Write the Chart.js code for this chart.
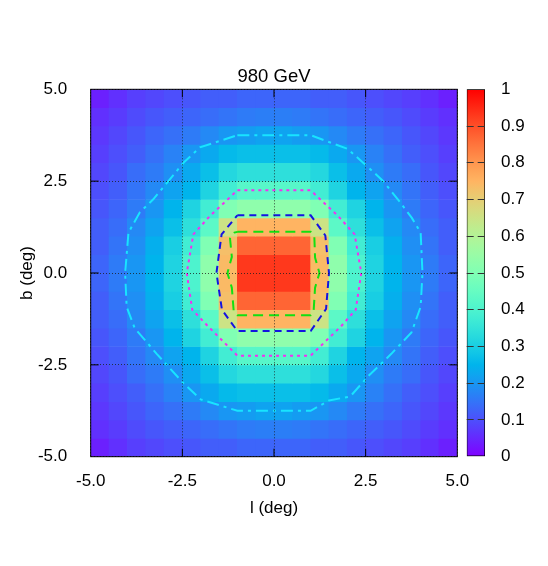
<!DOCTYPE html>
<html>
<head>
<meta charset="utf-8">
<title>980 GeV</title>
<script src="https://cdn.jsdelivr.net/npm/chart.js@4.4.1/dist/chart.umd.min.js"></script>
<style>
  html, body { margin: 0; padding: 0; background: #fff; }
  #wrap { position: relative; width: 548px; height: 566px; }
  #map { position: absolute; left: 0; top: 0; }
  #cbar { position: absolute; left: 460px; top: 0; }
</style>
</head>
<body>
<div id="wrap">
  <canvas id="map" width="548" height="566"></canvas>
  <canvas id="cbar" width="88" height="566"></canvas>
</div>
<script>
// ── Data ──

const TITLE = "980 GeV";
const X_LABEL = "l (deg)";
const Y_LABEL = "b (deg)";

// cell centres in l, cell edges in b (top to bottom)
const L_CENTERS = [-4.75, -4.25, -3.75, -3.25, -2.75, -2.25, -1.75, -1.25, -0.75, -0.25,
                    0.25,  0.75,  1.25,  1.75,  2.25,  2.75,  3.25,  3.75,  4.25,  4.75];
const B_EDGES = [5.0, 4.5, 4.0, 3.5, 3.0, 2.5, 2.0, 1.5, 1.0, 0.5, 0.0,
                 -0.5, -1.0, -1.5, -2.0, -2.5, -3.0, -3.5, -4.0, -4.5, -5.0];

// normalised value per cell, rows from b = 5 down to b = -5
const FLUX = [
    [0.04, 0.06, 0.08, 0.09, 0.10, 0.11, 0.12, 0.12, 0.13, 0.13, 0.13, 0.13, 0.12, 0.12, 0.11, 0.10, 0.09, 0.08, 0.06, 0.04],
    [0.06, 0.075, 0.095, 0.11, 0.12, 0.13, 0.14, 0.15, 0.16, 0.165, 0.165, 0.16, 0.15, 0.14, 0.13, 0.12, 0.11, 0.095, 0.075, 0.06],
    [0.07, 0.09, 0.11, 0.13, 0.145, 0.16, 0.18, 0.20, 0.21, 0.22, 0.22, 0.21, 0.20, 0.18, 0.16, 0.145, 0.13, 0.11, 0.09, 0.07],
    [0.08, 0.10, 0.12, 0.145, 0.17, 0.20, 0.23, 0.26, 0.27, 0.27, 0.27, 0.27, 0.26, 0.23, 0.20, 0.17, 0.145, 0.12, 0.10, 0.08],
    [0.09, 0.11, 0.14, 0.16, 0.19, 0.23, 0.27, 0.32, 0.34, 0.34, 0.34, 0.34, 0.32, 0.27, 0.23, 0.19, 0.16, 0.14, 0.11, 0.09],
    [0.10, 0.12, 0.15, 0.18, 0.22, 0.25, 0.31, 0.38, 0.42, 0.42, 0.42, 0.42, 0.38, 0.31, 0.25, 0.22, 0.18, 0.15, 0.12, 0.10],
    [0.11, 0.13, 0.16, 0.20, 0.25, 0.31, 0.38, 0.50, 0.53, 0.53, 0.53, 0.53, 0.50, 0.38, 0.31, 0.25, 0.20, 0.16, 0.13, 0.11],
    [0.12, 0.14, 0.18, 0.22, 0.27, 0.34, 0.43, 0.65, 0.75, 0.75, 0.75, 0.75, 0.65, 0.43, 0.34, 0.27, 0.22, 0.18, 0.14, 0.12],
    [0.12, 0.15, 0.19, 0.24, 0.30, 0.38, 0.50, 0.73, 0.87, 0.87, 0.87, 0.87, 0.73, 0.50, 0.38, 0.30, 0.24, 0.19, 0.15, 0.12],
    [0.13, 0.16, 0.20, 0.25, 0.31, 0.40, 0.53, 0.74, 0.93, 0.93, 0.93, 0.93, 0.74, 0.53, 0.40, 0.31, 0.25, 0.20, 0.16, 0.13],
    [0.13, 0.16, 0.20, 0.25, 0.31, 0.40, 0.53, 0.74, 0.93, 0.93, 0.93, 0.93, 0.74, 0.53, 0.40, 0.31, 0.25, 0.20, 0.16, 0.13],
    [0.12, 0.15, 0.19, 0.24, 0.30, 0.38, 0.50, 0.73, 0.87, 0.87, 0.87, 0.87, 0.73, 0.50, 0.38, 0.30, 0.24, 0.19, 0.15, 0.12],
    [0.12, 0.14, 0.18, 0.22, 0.27, 0.34, 0.43, 0.65, 0.75, 0.75, 0.75, 0.75, 0.65, 0.43, 0.34, 0.27, 0.22, 0.18, 0.14, 0.12],
    [0.11, 0.13, 0.16, 0.20, 0.25, 0.31, 0.38, 0.50, 0.53, 0.53, 0.53, 0.53, 0.50, 0.38, 0.31, 0.25, 0.20, 0.16, 0.13, 0.11],
    [0.10, 0.12, 0.15, 0.18, 0.22, 0.25, 0.31, 0.38, 0.42, 0.42, 0.42, 0.42, 0.38, 0.31, 0.25, 0.22, 0.18, 0.15, 0.12, 0.10],
    [0.09, 0.11, 0.14, 0.16, 0.19, 0.23, 0.27, 0.32, 0.34, 0.34, 0.34, 0.34, 0.32, 0.27, 0.23, 0.19, 0.16, 0.14, 0.11, 0.09],
    [0.08, 0.10, 0.12, 0.145, 0.17, 0.20, 0.23, 0.26, 0.27, 0.27, 0.27, 0.27, 0.26, 0.23, 0.20, 0.17, 0.145, 0.12, 0.10, 0.08],
    [0.07, 0.09, 0.11, 0.13, 0.145, 0.16, 0.18, 0.20, 0.21, 0.22, 0.22, 0.21, 0.20, 0.18, 0.16, 0.145, 0.13, 0.11, 0.09, 0.07],
    [0.06, 0.075, 0.095, 0.11, 0.12, 0.13, 0.14, 0.15, 0.16, 0.165, 0.165, 0.16, 0.15, 0.14, 0.13, 0.12, 0.11, 0.095, 0.075, 0.06],
    [0.04, 0.06, 0.08, 0.09, 0.10, 0.11, 0.12, 0.12, 0.13, 0.13, 0.13, 0.13, 0.12, 0.12, 0.11, 0.10, 0.09, 0.08, 0.06, 0.04],
];

// contour outlines as [l, b]
const CONTOUR_OUTER = [
    [-1.0, 3.75], [1.0, 3.75], [2.0, 3.38], [2.47, 2.97], [2.98, 2.5], [3.46, 1.9], [3.76, 1.5],
    [4.0, 1.1], [4.05, 0.0], [4.0, -0.92], [3.75, -1.62], [3.2, -2.2], [2.58, -2.8], [2.08, -3.36],
    [1.5, -3.47], [1.0, -3.75], [-1.0, -3.75], [-2.0, -3.44], [-2.47, -3.0], [-3.2, -2.2],
    [-3.8, -1.5], [-4.02, -0.92], [-4.06, 0.0], [-3.97, 1.1], [-3.66, 1.65], [-3.3, 2.0],
    [-2.88, 2.5], [-2.47, 3.0], [-2.02, 3.42], [-1.0, 3.75],
];
const CONTOUR_DOTTED = [
    [-1.0, 2.25], [1.0, 2.25], [1.75, 1.55], [2.2, 1.05], [2.38, 0.0], [2.23, -1.0], [1.82, -1.46],
    [1.0, -2.25], [-1.0, -2.25], [-1.8, -1.45], [-2.23, -1.0], [-2.38, 0.0], [-2.2, 1.05],
    [-1.75, 1.55], [-1.0, 2.25],
];
const CONTOUR_DASHED = [
    [-1.0, 1.57], [1.0, 1.57], [1.4, 1.02], [1.5, 0.0], [1.42, -0.98], [1.0, -1.58], [-1.0, -1.58],
    [-1.42, -1.0], [-1.57, 0.0], [-1.43, 1.05], [-1.0, 1.57],
];
const CONTOUR_INNER = [
    [-1.0, 1.12], [1.0, 1.12], [1.1, 1.0], [1.12, 0.42], [1.24, 0.0], [1.12, -0.4], [1.08, -1.05],
    [1.0, -1.15], [-1.0, -1.15], [-1.1, -1.03], [-1.15, -0.4], [-1.27, 0.0], [-1.15, 0.44],
    [-1.2, 0.94], [-1.08, 1.1], [-1.0, 1.12],
];

// ── Style ──

const FONT = { family: "'Liberation Sans', Arial, Helvetica, sans-serif", size: 17, weight: "normal" };
const TITLE_FONT = { family: FONT.family, size: 18.5, weight: "normal" };
const TICK_LEN = 8;

Chart.defaults.font.family = FONT.family;
Chart.defaults.color = "#000";

// gnuplot rgbformulae 33,13,10
function rainbow(v) {
    const c = t => Math.round(255 * Math.min(1, Math.max(0, t)));
    const r = Math.abs(2 * v - 0.5);
    const g = Math.sin(Math.PI * v);
    const b = Math.cos(Math.PI * v / 2);
    return "rgb(" + c(r) + "," + c(g) + "," + c(b) + ")";
}

function contourSet(points, color, dash) {
    return {
        type: "line",
        data: points.map(p => ({ x: p[0], y: p[1] })),
        borderColor: color,
        borderWidth: 2,
        borderDash: dash,
        pointRadius: 0,
        fill: false,
        tension: 0,
        order: 1,
    };
}

// ── Frame with inward tics ──

const framePlugin = {
    id: "frame",
    afterDraw(chart) {
        const { ctx, chartArea: a, scales } = chart;
        ctx.save();
        ctx.strokeStyle = "#000";
        ctx.lineWidth = 1;
        ctx.strokeRect(a.left, a.top, a.right - a.left, a.bottom - a.top);
        ctx.beginPath();
        scales.x.ticks.forEach(t => {
            const px = scales.x.getPixelForValue(t.value);
            if (px <= a.left + 1 || px >= a.right - 1) return;
            ctx.moveTo(px, a.bottom); ctx.lineTo(px, a.bottom - TICK_LEN);
            ctx.moveTo(px, a.top); ctx.lineTo(px, a.top + TICK_LEN);
        });
        scales.y.ticks.forEach(t => {
            const py = scales.y.getPixelForValue(t.value);
            if (py <= a.top + 1 || py >= a.bottom - 1) return;
            ctx.moveTo(a.left, py); ctx.lineTo(a.left + TICK_LEN, py);
            ctx.moveTo(a.right, py); ctx.lineTo(a.right - TICK_LEN, py);
        });
        ctx.stroke();
        ctx.restore();
    }
};

// ── Map ──

const cellSets = FLUX.map((row, r) => ({
    type: "bar",
    data: row.map((v, c) => ({ x: L_CENTERS[c], y: [B_EDGES[r + 1], B_EDGES[r]] })),
    backgroundColor: row.map(rainbow),
    borderWidth: 0,
    barPercentage: 1,
    categoryPercentage: 1,
    grouped: false,
    order: 2,
}));

const gridDots = { drawTicks: false, color: "rgba(30,30,30,0.8)", lineWidth: 1, offset: false, z: 1 };

new Chart(document.getElementById("map"), {
    type: "bar",
    data: {
        datasets: [
            contourSet(CONTOUR_OUTER, "#18e4ff", [12, 5, 3, 5]),
            contourSet(CONTOUR_DOTTED, "#f032f0", [3, 4]),
            contourSet(CONTOUR_DASHED, "#1414e0", [7, 5]),
            contourSet(CONTOUR_INNER, "#12e012", [10, 6]),
            ...cellSets,
        ],
    },
    options: {
        responsive: false,
        animation: false,
        layout: { padding: { left: 0, right: 90.7, top: 0, bottom: 0 } },
        plugins: {
            legend: { display: false },
            tooltip: { enabled: false },
            title: {
                display: true,
                text: TITLE,
                fullSize: false,
                color: "#000",
                font: TITLE_FONT,
                padding: { top: 65.5, bottom: 1.6 },
            },
        },
        scales: {
            x: {
                type: "linear",
                min: -5, max: 5,
                offset: false,
                afterFit: s => { s.height = 109.3; },
                ticks: { stepSize: 2.5, padding: 14, maxRotation: 0, font: FONT, color: "#000",
                         callback: v => v.toFixed(1) },
                grid: gridDots,
                border: { display: false, dash: [1, 2] },
                title: { display: true, text: X_LABEL, font: FONT, color: "#000", padding: { top: 0, bottom: 47.8 } },
            },
            y: {
                type: "linear",
                min: -5, max: 5,
                afterFit: s => { s.width = 90.7; },
                ticks: { stepSize: 2.5, padding: 15.5, font: FONT, color: "#000",
                         callback: v => v.toFixed(1) },
                // bars sit on this axis; its own grid is off so b = 0 leaves no gap
                grid: { display: false },
                border: { display: false },
                title: { display: true, text: Y_LABEL, font: FONT, color: "#000", padding: { top: 17.5, bottom: 0 } },
            },
            // horizontal dotted grid drawn by a silent twin axis
            yGrid: {
                type: "linear",
                position: "left",
                min: -5, max: 5,
                afterFit: s => { s.width = 0; },
                ticks: { stepSize: 2.5, display: false },
                grid: gridDots,
                border: { display: false, dash: [1, 2] },
            },
        },
    },
    plugins: [framePlugin],
});

// ── Colour bar ──

function barGradient(ctx) {
    const chart = ctx.chart;
    if (!chart.chartArea) return null;
    const y = chart.scales.y;
    const g = chart.ctx.createLinearGradient(0, y.getPixelForValue(0), 0, y.getPixelForValue(1));
    for (let i = 0; i <= 40; i++) g.addColorStop(i / 40, rainbow(i / 40));
    return g;
}

new Chart(document.getElementById("cbar"), {
    type: "bar",
    data: {
        labels: [""],
        datasets: [{
            data: [[0, 1]],
            backgroundColor: barGradient,
            borderColor: "#000",
            borderWidth: 1,
            borderSkipped: false,
            barPercentage: 1,
            categoryPercentage: 1,
        }],
    },
    options: {
        responsive: false,
        animation: false,
        layout: { padding: { left: 6.7, right: 0, top: 89.3, bottom: 109.3 } },
        plugins: { legend: { display: false }, tooltip: { enabled: false } },
        scales: {
            x: { display: false },
            y: {
                position: "right",
                min: 0, max: 1,
                afterFit: s => { s.width = 63; },
                ticks: { stepSize: 0.1, padding: 16, autoSkip: false, font: FONT, color: "#000",
                         callback: v => String(+v.toFixed(1)) },
                grid: {
                    drawTicks: false, z: 1, lineWidth: 1,
                    color: c => (c.tick && (c.tick.value <= 0.001 || c.tick.value >= 0.999)) ? "rgba(0,0,0,0)" : "#333",
                },
                border: { display: false, dash: [7, 4] },
            },
        },
    },
});
</script>
</body>
</html>
